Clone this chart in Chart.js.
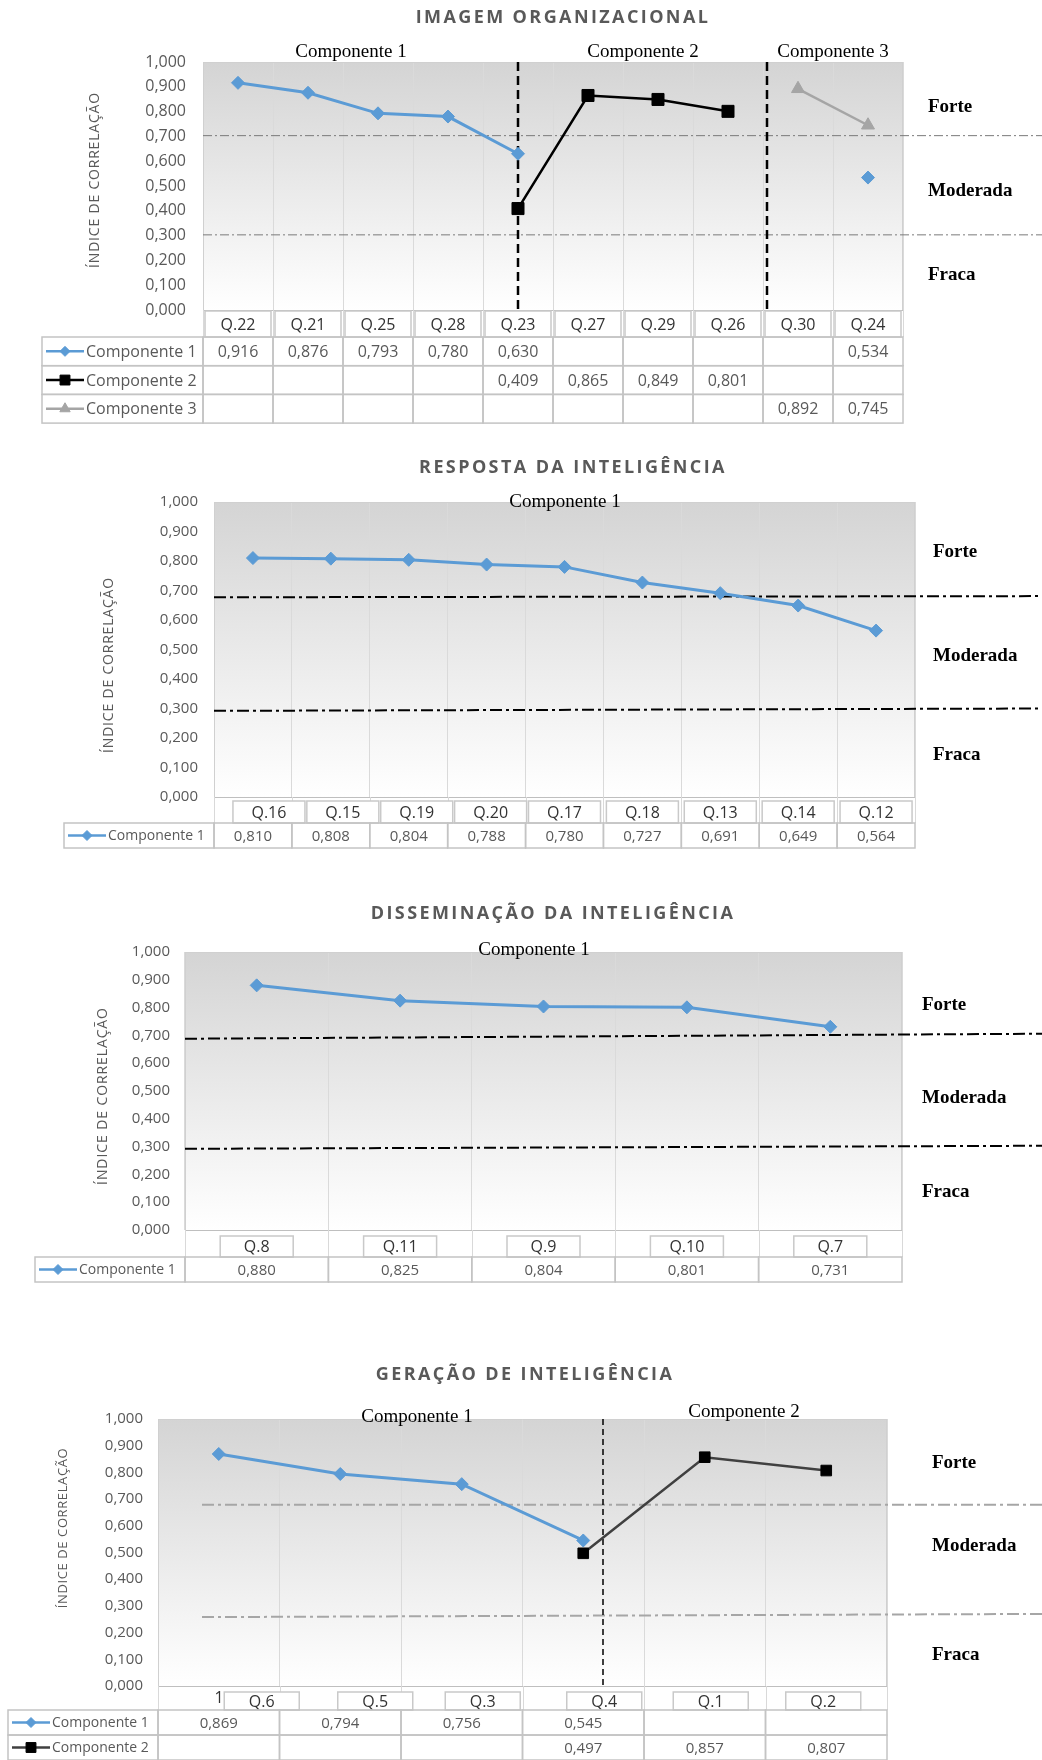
<!DOCTYPE html>
<html lang="pt">
<head>
<meta charset="utf-8">
<title>Índice de correlação</title>
<script src="https://cdn.jsdelivr.net/npm/chart.js@4.4.1/dist/chart.umd.min.js"></script>
<style>
  html, body { margin: 0; padding: 0; background: #fff; }
  #pagina { position: relative; width: 1042px; height: 1760px; }
  #pagina canvas { position: absolute; left: 0; top: 0; }
</style>
</head>
<body>
<div id="pagina">
  <canvas id="grafIO" width="1042" height="1760"></canvas>
  <canvas id="grafRI" width="1042" height="1760"></canvas>
  <canvas id="grafDI" width="1042" height="1760"></canvas>
  <canvas id="grafGI" width="1042" height="1760"></canvas>
</div>
<script>
// --- DADOS ---
const zonas = ['Forte', 'Moderada', 'Fraca'];

// Imagem organizacional
const io_questoes = ['Q.22', 'Q.21', 'Q.25', 'Q.28', 'Q.23', 'Q.27', 'Q.29', 'Q.26', 'Q.30', 'Q.24'];
const io_comp1 = [0.916, 0.876, 0.793, 0.780, 0.630, null, null, null, null, 0.534];
const io_comp2 = [null, null, null, null, 0.409, 0.865, 0.849, 0.801, null, null];
const io_comp3 = [null, null, null, null, null, null, null, null, 0.892, 0.745];
const io_limites = [[0.703, 0.703], [0.303, 0.303]];   // [valor à esquerda, valor à direita]
const io_divisores = [4, 7.56];

// Resposta da inteligência
const ri_questoes = ['Q.16', 'Q.15', 'Q.19', 'Q.20', 'Q.17', 'Q.18', 'Q.13', 'Q.14', 'Q.12'];
const ri_comp1 = [0.810, 0.808, 0.804, 0.788, 0.780, 0.727, 0.691, 0.649, 0.564];
const ri_limites = [[0.677, 0.681], [0.292, 0.300]];

// Disseminação da inteligência
const di_questoes = ['Q.8', 'Q.11', 'Q.9', 'Q.10', 'Q.7'];
const di_comp1 = [0.880, 0.825, 0.804, 0.801, 0.731];
const di_limites = [[0.688, 0.706], [0.292, 0.303]];

// Geração de inteligência
const gi_questoes = ['Q.6', 'Q.5', 'Q.3', 'Q.4', 'Q.1', 'Q.2'];
const gi_comp1 = [0.869, 0.794, 0.756, 0.545, null, null];
const gi_comp2 = [null, null, null, 0.497, 0.857, 0.807];
const gi_limites = [[0.679, 0.679], [0.258, 0.270]];
const gi_divisores = [3.16];

// --- ESTILO GERAL ---
Chart.defaults.font.family = '"Open Sans", sans-serif';
Chart.defaults.color = '#595959';

const fmt = v => v.toFixed(3).replace('.', ',');

function serieAzul(dados) {
    return { label: 'Componente 1', data: dados, borderColor: '#5B9BD5', backgroundColor: '#5B9BD5',
             borderWidth: 3, pointStyle: 'rectRot', pointRadius: 6.5, pointBorderWidth: 1, legRaio: 5 };
}
function serieQuadrado(dados, linha, raio) {
    return { label: 'Componente 2', data: dados, borderColor: linha, backgroundColor: '#000',
             pointBorderColor: '#000', borderWidth: 2.5, pointStyle: 'rect', pointRadius: raio,
             pointBorderWidth: 1, legRaio: 7 };
}
function serieCinza(dados) {
    return { label: 'Componente 3', data: dados, borderColor: '#A5A5A5', backgroundColor: '#A5A5A5',
             borderWidth: 2.5, pointStyle: 'triangle', pointRadius: 7.5, pointBorderWidth: 1, legRaio: 6 };
}

function linha(ctx, x0, y0, x1, y1) {
    ctx.beginPath(); ctx.moveTo(x0, y0); ctx.lineTo(x1, y1); ctx.stroke();
}

// --- PLUGIN: fundo, linhas de referência, textos e tabela ---
const decoracao = {
    id: 'decoracao',
    beforeDraw(chart) {
        const { ctx, chartArea: a } = chart;
        const g = ctx.createLinearGradient(0, a.top, 0, a.bottom);
        g.addColorStop(0, '#d4d4d4');
        g.addColorStop(1, '#ffffff');
        ctx.save();
        ctx.fillStyle = g;
        ctx.fillRect(a.left, a.top, a.right - a.left, a.bottom - a.top);
        ctx.restore();
    },
    beforeDatasetsDraw(chart, args, o) {
        const { ctx, chartArea: a } = chart;
        const ys = chart.scales.y, xs = chart.scales.x;
        ctx.save();
        ctx.strokeStyle = '#d0d0d0'; ctx.lineWidth = 1;
        linha(ctx, a.left, a.top + 0.5, a.right, a.top + 0.5);
        linha(ctx, a.right - 0.5, a.top, a.right - 0.5, a.bottom);

        const L = o.limite;
        ctx.strokeStyle = L.cor; ctx.lineWidth = L.largura; ctx.setLineDash(L.dash);
        o.limites.forEach(v => {
            linha(ctx, L.inicio || a.left, ys.getPixelForValue(v[0]), chart.width, ys.getPixelForValue(v[1]));
        });

        if (o.divisores) {
            const D = o.divisor;
            ctx.strokeStyle = D.cor; ctx.lineWidth = D.largura; ctx.setLineDash(D.dash);
            o.divisores.forEach(d => {
                const x = Math.round(xs.getPixelForValue(d));
                linha(ctx, x, a.top, x, a.bottom + D.extra);
            });
        }
        ctx.restore();
    },
    afterDraw(chart, args, o) {
        const { ctx } = chart;
        ctx.save();
        // título
        ctx.fillStyle = '#595959';
        ctx.font = 'bold 18px "Open Sans"';
        ctx.letterSpacing = '2.4px';
        ctx.textAlign = 'center'; ctx.textBaseline = 'middle';
        ctx.fillText(o.titulo[0], o.titulo[1], o.titulo[2]);

        // título do eixo Y
        ctx.save();
        ctx.translate(o.eixoY.x, o.eixoY.y);
        ctx.rotate(-Math.PI / 2);
        ctx.font = o.eixoY.fonte + 'px "Open Sans"';
        ctx.letterSpacing = o.eixoY.espaco + 'px';
        ctx.fillStyle = '#595959';
        ctx.fillText('ÍNDICE DE CORRELAÇÃO', 0, 0);
        ctx.restore();

        ctx.letterSpacing = '0px';
        // componentes
        ctx.fillStyle = '#000';
        ctx.font = '19px "Liberation Serif"';
        o.componentes.forEach(c => ctx.fillText(c[0], c[1], c[2]));

        // zonas
        ctx.font = 'bold 19px "Liberation Serif"';
        ctx.textAlign = 'left';
        zonas.forEach((z, i) => ctx.fillText(z, o.zonas.x, o.zonas.ys[i]));
        ctx.restore();

        desenharTabela(chart, o.tabela);
    }
};

function desenharTabela(chart, t) {
    const { ctx, chartArea: a } = chart;
    const xs = chart.scales.x;
    const n = chart.data.labels.length;
    const larg = xs.width / n;
    const yc0 = a.bottom, yc1 = a.bottom + t.alturaCat;
    ctx.save();
    ctx.textAlign = 'center'; ctx.textBaseline = 'middle';

    // linha das questões
    ctx.strokeStyle = '#d9d9d9'; ctx.lineWidth = 1;
    for (let i = 0; i <= n; i++) {
        const x = Math.round(a.left + i * larg) + 0.5;
        linha(ctx, x, yc0, x, yc1);
    }
    // resto de rótulo que aparece por trás das caixas (gráfico 4)
    if (t.resto) {
        ctx.fillStyle = '#333';
        ctx.font = '16px "Open Sans"';
        ctx.fillText(t.resto[0], t.resto[1], t.resto[2]);
    }
    const bw = Math.min(t.caixaL, larg - 4);
    chart.data.labels.forEach((q, i) => {
        const cx = xs.getPixelForValue(i) + (t.desloc ? t.desloc[i] : 0);
        ctx.fillStyle = '#fff';
        ctx.fillRect(cx - bw / 2, yc0 + t.caixaTopo, bw, yc1 - yc0 - t.caixaTopo);
        ctx.strokeStyle = '#c9c9c9'; ctx.lineWidth = 1.5;
        ctx.strokeRect(cx - bw / 2, yc0 + t.caixaTopo, bw, yc1 - yc0 - t.caixaTopo);
        ctx.fillStyle = '#333';
        ctx.font = '16px "Open Sans"';
        ctx.fillText(q, cx, (yc0 + t.caixaTopo + yc1) / 2 + 1);
    });

    // linhas de dados
    chart.data.datasets.forEach((ds, r) => {
        const y0 = yc1 + r * t.alturaLinha;
        const ym = y0 + t.alturaLinha / 2;
        ctx.strokeStyle = '#c4c4c4'; ctx.lineWidth = 1.5;
        ctx.strokeRect(t.legendaX, y0, a.left - t.legendaX, t.alturaLinha);
        for (let i = 0; i < n; i++) ctx.strokeRect(a.left + i * larg, y0, larg, t.alturaLinha);

        ctx.font = t.fonte + 'px "Open Sans"';
        ctx.fillStyle = '#595959';
        ctx.textAlign = 'center';
        ds.data.forEach((v, i) => {
            if (v !== null) ctx.fillText(fmt(v), xs.getPixelForValue(i), ym + 1);
        });

        // amostra da legenda
        ctx.strokeStyle = ds.borderColor; ctx.lineWidth = 2.5;
        linha(ctx, t.legendaX + 4, ym, t.legendaX + 42, ym);
        ctx.fillStyle = ds.backgroundColor;
        ctx.strokeStyle = ds.pointBorderColor || ds.borderColor;
        ctx.lineWidth = 1;
        Chart.helpers.drawPoint(ctx, { pointStyle: ds.pointStyle, radius: ds.legRaio, rotation: 0, borderWidth: 1 },
                                t.legendaX + 23, ym);
        ctx.fillStyle = '#595959';
        ctx.textAlign = 'left';
        ctx.font = t.fonteLeg + 'px "Open Sans"';
        ctx.fillText(ds.label, t.legendaX + 44, ym + 1);
    });
    ctx.restore();
}

// --- FÁBRICA DE GRÁFICOS ---
function criarGrafico(id, questoes, series, caixa, deco) {
    return new Chart(document.getElementById(id), {
        type: 'line',
        data: { labels: questoes, datasets: series },
        plugins: [decoracao],
        options: {
            responsive: false,
            animation: false,
            events: [],
            layout: { padding: { left: 0, top: caixa.top, right: 1042 - caixa.right, bottom: 1760 - caixa.bottom } },
            scales: {
                x: {
                    offset: true,
                    grid: { offset: true, drawTicks: false, color: '#dadada' },
                    border: { color: '#bfbfbf' },
                    ticks: { display: false }
                },
                y: {
                    min: 0, max: 1,
                    afterFit: s => { s.width = caixa.left; },
                    grid: { display: false, drawTicks: false },
                    border: { color: '#d0d0d0' },
                    ticks: { stepSize: 0.1, padding: caixa.pad, color: '#595959',
                             font: { size: caixa.fonteY }, callback: v => fmt(v) }
                }
            },
            plugins: {
                legend: { display: false },
                tooltip: { enabled: false },
                decoracao: deco
            }
        }
    });
}

// Gráfico 1
criarGrafico('grafIO', io_questoes,
    [serieAzul(io_comp1), serieQuadrado(io_comp2, '#000', 8.5), serieCinza(io_comp3)],
    { left: 203, right: 903, top: 62, bottom: 310, pad: 17, fonteY: 16 },
    {
        titulo: ['IMAGEM ORGANIZACIONAL', 563, 18],
        eixoY: { x: 95, y: 180, fonte: 14, espaco: 0.8 },
        componentes: [['Componente 1', 351, 52], ['Componente 2', 643, 52], ['Componente 3', 833, 52]],
        zonas: { x: 928, ys: [107, 191, 275] },
        limites: io_limites,
        limite: { cor: '#7a7a7a', largura: 1, dash: [9, 3, 2, 3] },
        divisores: io_divisores,
        divisor: { cor: '#000', largura: 2.5, dash: [9, 5], extra: 3 },
        tabela: { alturaCat: 27, alturaLinha: 28.7, legendaX: 42, caixaL: 70, caixaTopo: 1, fonte: 16, fonteLeg: 16 }
    });

// Gráfico 2
criarGrafico('grafRI', ri_questoes,
    [serieAzul(ri_comp1)],
    { left: 214, right: 915, top: 502, bottom: 797, pad: 16, fonteY: 15 },
    {
        titulo: ['RESPOSTA DA INTELIGÊNCIA', 573, 468],
        eixoY: { x: 109, y: 665, fonte: 14, espaco: 0.8 },
        componentes: [['Componente 1', 565, 502]],
        zonas: { x: 933, ys: [552, 656, 755] },
        limites: ri_limites,
        limite: { cor: '#000', largura: 2, dash: [12, 4, 3, 4] },
        tabela: { alturaCat: 26, alturaLinha: 25, legendaX: 64, caixaL: 72, caixaTopo: 4, fonte: 15, fonteLeg: 14,
                  desloc: [16, 12, 8, 4, 0, 0, 0, 0, 0] }
    });

// Gráfico 3
criarGrafico('grafDI', di_questoes,
    [serieAzul(di_comp1)],
    { left: 185, right: 902, top: 952, bottom: 1230, pad: 15, fonteY: 15 },
    {
        titulo: ['DISSEMINAÇÃO DA INTELIGÊNCIA', 553, 914],
        eixoY: { x: 103, y: 1096, fonte: 14, espaco: 0.9 },
        componentes: [['Componente 1', 534, 950]],
        zonas: { x: 922, ys: [1005, 1098, 1192] },
        limites: di_limites,
        limite: { cor: '#000', largura: 2, dash: [12, 4, 3, 4] },
        tabela: { alturaCat: 27, alturaLinha: 25, legendaX: 35, caixaL: 73, caixaTopo: 6, fonte: 15, fonteLeg: 14 }
    });

// Gráfico 4
criarGrafico('grafGI', gi_questoes,
    [serieAzul(gi_comp1), serieQuadrado(gi_comp2, '#404040', 7.5)],
    { left: 158, right: 887, top: 1419, bottom: 1686, pad: 15, fonteY: 15 },
    {
        titulo: ['GERAÇÃO DE INTELIGÊNCIA', 525, 1375],
        eixoY: { x: 63, y: 1528, fonte: 13, espaco: 0.6 },
        componentes: [['Componente 1', 417, 1417], ['Componente 2', 744, 1412]],
        zonas: { x: 932, ys: [1463, 1546, 1655] },
        limites: gi_limites,
        limite: { cor: '#a6a6a6', largura: 2, dash: [12, 4, 3, 4], inicio: 202 },
        divisores: gi_divisores,
        divisor: { cor: '#000', largura: 1.5, dash: [6, 4], extra: 0 },
        tabela: { alturaCat: 24, alturaLinha: 25, legendaX: 8, caixaL: 75, caixaTopo: 6, fonte: 15, fonteLeg: 14,
                  desloc: [43, 35, 21, 21, 6, -3], resto: ['1', 219, 1698] }
    });
</script>
</body>
</html>
